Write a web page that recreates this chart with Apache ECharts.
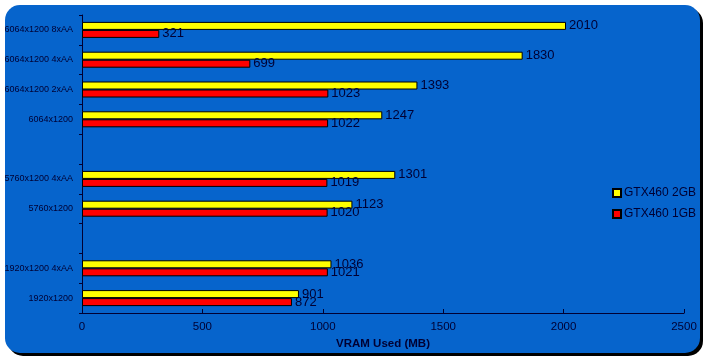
<!DOCTYPE html>
<html><head><meta charset="utf-8">
<script src="https://cdn.jsdelivr.net/npm/echarts@6/dist/echarts.min.js"></script>
<style>html,body{margin:0;padding:0;background:#fff}#c{width:709px;height:362px}</style>
</head><body><div id="c"></div>
<script>
const categories = ['6064x1200 8xAA','6064x1200 4xAA','6064x1200 2xAA','6064x1200',' ','5760x1200 4xAA','5760x1200','  ','1920x1200 4xAA','1920x1200'];
const gtx2gb = [2010,1830,1393,1247,null,1301,1123,null,1036,901];
const gtx1gb = [321,699,1023,1022,null,1019,1020,null,1021,872];
const xTicks = [0,500,1000,1500,2000,2500];
const seriesNames = ['GTX460 2GB','GTX460 1GB'];

const navy = '#000033';
const font = '"Liberation Sans", Arial, sans-serif';
const chart = echarts.init(document.getElementById('c'), null, {renderer:'canvas'});
chart.setOption({
  animation:false,
  backgroundColor:'#ffffff',
  graphic:[
    {type:'rect', z:-10, silent:true, shape:{x:8,y:8,width:695,height:348,r:15}, style:{fill:'#000000'}},
    {type:'rect', z:-9, silent:true, shape:{x:5,y:5,width:695,height:348,r:15}, style:{fill:'#0664CC'}}
  ],
  grid:{left:82,right:25,top:15,bottom:49,containLabel:false},
  legend:{
    orient:'vertical', left:607, top:182, itemWidth:8, itemHeight:8, itemGap:9, icon:'rect',
    data:seriesNames,
    textStyle:{color:navy, fontFamily:font, fontSize:12, padding:[0,0,0,-2]}
  },
  xAxis:{
    type:'value', min:xTicks[0], max:xTicks[xTicks.length-1], interval:500,
    splitLine:{show:false},
    axisLine:{show:true, lineStyle:{color:navy,width:1}},
    axisTick:{show:true, inside:true, length:4, lineStyle:{color:navy}},
    axisLabel:{color:navy, fontFamily:font, fontSize:11.5, margin:8, formatter:(v)=>String(v)},
    name:'VRAM Used (MB)', nameLocation:'middle', nameGap:23,
    nameTextStyle:{color:navy, fontFamily:font, fontSize:11.5, fontWeight:'bold'}
  },
  yAxis:{
    type:'category', data:categories, inverse:true,
    axisLine:{show:true, lineStyle:{color:navy,width:1}},
    axisTick:{show:true, length:3, lineStyle:{color:navy}},
    axisLabel:{color:navy, fontFamily:font, fontSize:9, margin:9}
  },
  series:[
    {name:seriesNames[0], type:'bar', data:gtx2gb, barWidth:8, barGap:'0%',
     itemStyle:{color:'#FFFF00', borderColor:'#000000', borderWidth:1},
     label:{show:true, position:'right', distance:3, color:navy, fontFamily:font, fontSize:13}},
    {name:seriesNames[1], type:'bar', data:gtx1gb, barWidth:8,
     itemStyle:{color:'#FF0000', borderColor:'#000000', borderWidth:1},
     label:{show:true, position:'right', distance:3, color:navy, fontFamily:font, fontSize:13}}
  ]
});
</script></body></html>
